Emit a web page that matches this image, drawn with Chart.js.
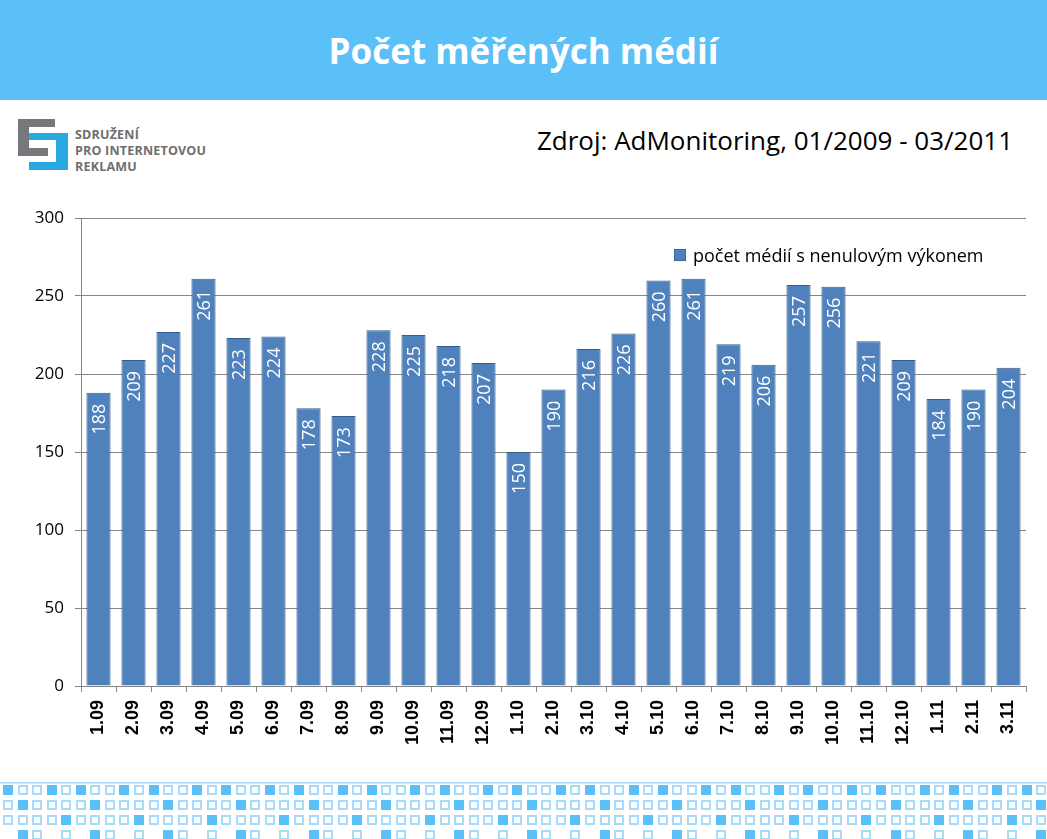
<!DOCTYPE html>
<html>
<head>
<meta charset="utf-8">
<script src="https://cdn.jsdelivr.net/npm/chart.js@4/dist/chart.umd.min.js"></script>
<style>
  body { margin: 0; width: 1047px; height: 839px; overflow: hidden; background: #fff; font-family: 'Open Sans', sans-serif; position: relative; }
  #header { position: absolute; left: 0; top: 0; width: 1047px; height: 100px; background: #5bc0f8; color: #fff; font-weight: bold; font-size: 35px; text-align: center; line-height: 102px; }
  #source { position: absolute; right: 34px; top: 122px; font-size: 26px; color: #000; }
  .logo-part { position: absolute; }
  #logoText { position: absolute; left: 75px; top: 127px; font-size: 12.5px; font-weight: bold; color: #6d6e71; line-height: 16px; letter-spacing: 0.2px; }
  #chartWrap { position: absolute; left: 0; top: 190px; width: 1047px; height: 570px; }
  #legend { position: absolute; left: 674px; top: 243px; font-size: 18px; color: #000; display: flex; align-items: center; }
  #legend span.box { width: 10px; height: 10px; background: #4f81bd; border: 1px solid #3b6496; margin-right: 7px; }
  #deco { position: absolute; left: 0; top: 780px; }
</style>
</head>
<body>
<div id="header">Počet měřených médií</div>

<div class="logo-part" style="left:18px;top:119px;width:37px;height:8px;background:#77787b"></div>
<div class="logo-part" style="left:18px;top:119px;width:11px;height:37px;background:#77787b"></div>
<div class="logo-part" style="left:18px;top:148px;width:30px;height:8px;background:#77787b"></div>
<div class="logo-part" style="left:29px;top:133px;width:39px;height:7px;background:#29a9e1"></div>
<div class="logo-part" style="left:56px;top:133px;width:12px;height:37px;background:#29a9e1"></div>
<div class="logo-part" style="left:29px;top:162px;width:39px;height:8px;background:#29a9e1"></div>
<div id="logoText">SDRUŽENÍ<br>PRO INTERNETOVOU<br>REKLAMU</div>

<div id="source">Zdroj: AdMonitoring, 01/2009 - 03/2011</div>

<div id="chartWrap"><canvas id="mediaChart" width="1047" height="570"></canvas></div>
<div id="legend"><span class="box"></span>počet médií s nenulovým výkonem</div>

<canvas id="deco" width="1047" height="59"></canvas>

<script>
// Data
const months = ['1.09', '2.09', '3.09', '4.09', '5.09', '6.09', '7.09', '8.09', '9.09', '10.09', '11.09', '12.09',
                '1.10', '2.10', '3.10', '4.10', '5.10', '6.10', '7.10', '8.10', '9.10', '10.10', '11.10', '12.10',
                '1.11', '2.11', '3.11'];
const mediaCount = [188, 209, 227, 261, 223, 224, 178, 173, 228, 225, 218, 207,
                    150, 190, 216, 226, 260, 261, 219, 206, 257, 256, 221, 209,
                    184, 190, 204];
const seriesName = 'počet médií s nenulovým výkonem';
const yTicks = [0, 50, 100, 150, 200, 250, 300];

// Rotated value labels inside the bar tops
const barLabels = {
    id: 'barLabels',
    afterDatasetsDraw(chart) {
        const ctx = chart.ctx;
        const meta = chart.getDatasetMeta(0);
        ctx.save();
        ctx.fillStyle = '#ffffff';
        ctx.font = '18px "Open Sans"';
        ctx.textAlign = 'right';
        ctx.textBaseline = 'middle';
        meta.data.forEach((bar, i) => {
            ctx.save();
            ctx.translate(bar.x + 1, bar.y + 11);
            ctx.rotate(-Math.PI / 2);
            ctx.fillText(String(mediaCount[i]), 0, 0);
            ctx.restore();
        });
        ctx.restore();
    }
};

const ctx = document.getElementById('mediaChart').getContext('2d');
const mediaChart = new Chart(ctx, {
    type: 'bar',
    data: {
        labels: months,
        datasets: [{
            label: seriesName,
            data: mediaCount,
            backgroundColor: '#4f81bd',
            borderColor: '#385d8a',
            borderWidth: 1,
            categoryPercentage: 1,
            barPercentage: 0.69
        }]
    },
    options: {
        responsive: false,
        animation: false,
        layout: { padding: { top: 28, right: 21, left: 0, bottom: 0 } },
        plugins: {
            legend: { display: false },
            tooltip: { enabled: false }
        },
        scales: {
            x: {
                afterFit: (s) => { s.height = 74; },
                grid: { offset: true, drawOnChartArea: false, drawTicks: true, tickLength: 6, color: '#868686' },
                border: { color: '#868686' },
                ticks: {
                    autoSkip: false,
                    minRotation: 90,
                    maxRotation: 90,
                    padding: 8,
                    color: '#000',
                    font: { family: 'Liberation Sans', weight: 'bold', size: 18 }
                }
            },
            y: {
                min: 0,
                max: 300,
                afterFit: (s) => { s.width = 81; },
                afterBuildTicks: (s) => { s.ticks = yTicks.map(v => ({ value: v })); },
                grid: { color: '#868686', tickLength: 6 },
                border: { color: '#868686' },
                ticks: {
                    padding: 11,
                    color: '#000',
                    font: { family: 'Open Sans', size: 17 }
                }
            }
        }
    },
    plugins: [barLabels]
});

// Decorative square pattern at the bottom
(function drawDeco() {
    const c = document.getElementById('deco').getContext('2d');
    c.fillStyle = '#a9d4f0';
    c.fillRect(0, 2, 1047, 1.5);
    const pitch = 14.55;
    const rows = [
        { y: 5, filled: [0, 3], hollow: [1, 2, 4] },
        { y: 20, filled: [1], hollow: [0, 2, 3, 4] },
        { y: 35, filled: [4], hollow: [0, 1, 2, 3] },
        { y: 50, filled: [1], hollow: [2, 4] }
    ];
    rows.forEach(r => {
        for (let i = 0; i < 72; i++) {
            const x = Math.round(3 + i * pitch);
            const k = i % 5;
            if (r.filled.includes(k)) {
                c.fillStyle = '#5bc0f8';
                c.fillRect(x, r.y, 10, 10);
            } else if (r.hollow.includes(k)) {
                c.strokeStyle = '#a6dbfa';
                c.lineWidth = 2;
                c.strokeRect(x + 1, r.y + 1, 8, 8);
            }
        }
    });
})();
</script>
</body>
</html>
